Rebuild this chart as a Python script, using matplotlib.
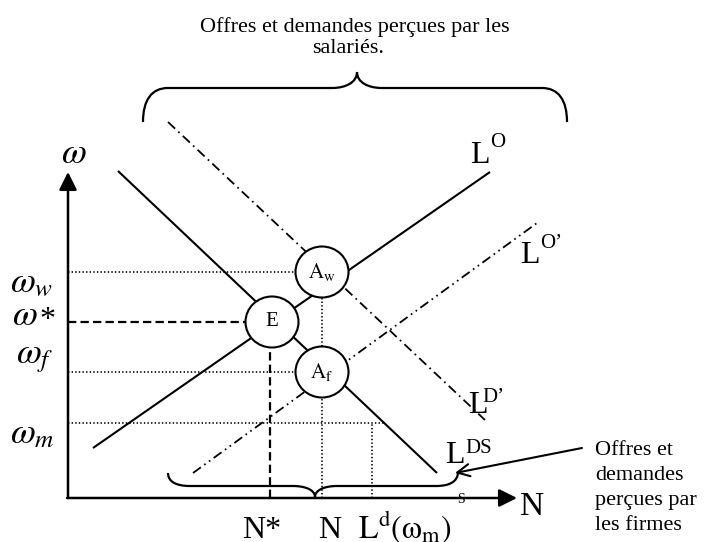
import matplotlib
matplotlib.use("Agg")
import matplotlib.pyplot as plt
from matplotlib.path import Path
from matplotlib.patches import PathPatch, Ellipse

plt.rcParams['mathtext.fontset'] = 'stix'
plt.rcParams['lines.scale_dashes'] = False
SERIF = 'Liberation Serif'

# ---------------- data (diagram units, origin at axes corner) ----------------
axis_x_end = 44.9
axis_y_end = 32.6

LD_x = [5.0, 36.9];   LD_y = [32.7, 2.5]     # demande L^D (solid)
LO_x = [2.5, 42.2];   LO_y = [5.0, 32.6]     # offre L^O (solid)
LDp_x = [10.0, 41.7]; LDp_y = [37.6, 7.8]    # L^D' (dash-dot)
LOp_x = [12.5, 46.9]; LOp_y = [2.5, 27.5]    # L^O' (dash-dot-dot)

# points (name, x, y)
pt_names = ['E', r'$\mathrm{A_w}$', r'$\mathrm{A_f}$']
pt_x = [20.4, 25.4, 25.4]
pt_y = [17.6, 22.6, 12.6]
radius = 2.6

# wage levels
w_labels = [r'$\omega_w$', r'$\omega$', r'$\omega_f$', r'$\omega_m$']
w_levels = [22.6, 17.6, 12.6, 7.5]
w_label_base = [20.6, 17.3, 13.5, 5.5]
w_label_right = [-1.5, -3.0, -1.5, -1.3]
w_line_end = [22.8, 17.8, 22.8, 31.7]
w_styles = ['dotted', 'dashed', 'dotted', 'dotted']

# employment levels
n_pos = [20.2, 25.4, 30.4]
n_top = [15.1, 20.0, 7.5]
n_styles = ['dashed', 'dotted', 'dotted']
n_labels = ['N*', 'N', r'$\mathrm{L^d(ω_m)}$']
n_label_x = [17.4, 25.0, 29.0]

top_text = ['Offres et demandes perçues par les', 'salariés.']
firm_text = ['Offres et', 'demandes', 'perçues par', 'les firmes']

# braces: x_left, x_tip, x_right, y_end_left, y_flat, y_tip, y_end_right, r
brace_top = [7.5, 28.9, 49.9, 37.6, 41.0, 42.6, 37.6, 2.5]
brace_bot = [10.0, 24.7, 39.0, 2.5, 1.2, 0.1, 2.6, 2.2]

arrow_tail = [51.4, 5.0]
arrow_tip = [38.7, 2.5]

# ---------------- figure ----------------
fig = plt.figure(figsize=(7.06, 5.42), dpi=100)
ax = fig.add_axes([0, 0, 1, 1])
ax.set_xlim(-6.8, 63.8)
ax.set_ylim(-4.4, 49.8)
ax.axis('off')

DOT = (0, (1.0, 1.6))
DASH = (0, (6, 3))
ls_map = {'dotted': DOT, 'dashed': DASH}
lw_map = {'dotted': 1.2, 'dashed': 1.6}

# axes with arrows
ax.annotate('', xy=(0, axis_y_end), xytext=(0, 0),
            arrowprops=dict(arrowstyle='-|>', lw=1.8, color='k', mutation_scale=27,
                            shrinkA=0, shrinkB=0))
ax.annotate('', xy=(axis_x_end, 0), xytext=(-0.09, 0),
            arrowprops=dict(arrowstyle='-|>', lw=1.8, color='k', mutation_scale=27,
                            shrinkA=0, shrinkB=0))

# curves
ax.plot(LD_x, LD_y, color='k', lw=1.5, solid_capstyle='butt')
ax.plot(LO_x, LO_y, color='k', lw=1.5, solid_capstyle='butt')
ax.plot(LDp_x, LDp_y, color='k', lw=1.3, linestyle=(0, (7, 3.2, 1.2, 3.2)))
ax.plot(LOp_x, LOp_y, color='k', lw=1.3, linestyle=(0, (7, 3, 1.2, 3, 1.2, 3)))

# guides
for lvl, end, st in zip(w_levels, w_line_end, w_styles):
    ax.plot([0, end], [lvl, lvl], color='k', lw=lw_map[st], linestyle=ls_map[st])
for xp, top, st in zip(n_pos, n_top, n_styles):
    ax.plot([xp, xp], [0, top], color='k', lw=lw_map[st], linestyle=ls_map[st])

# circles
for name, x, y in zip(pt_names, pt_x, pt_y):
    ax.add_patch(Ellipse((x, y), 2 * radius + 0.1, 2 * radius - 0.1, facecolor='white',
                         edgecolor='k', lw=1.5, zorder=5))
    ax.text(x, y, name, ha='center', va='center', fontsize=15, family=SERIF, zorder=6)

# y labels
ax.text(0.6, 33.5, r'$\omega$', ha='center', va='baseline', fontsize=26)
for lab, yb, xr in zip(w_labels, w_label_base, w_label_right):
    ax.text(xr, yb, lab, ha='right', va='baseline', fontsize=26)
ax.text(-2.85, 17.0, '*', ha='left', va='baseline', fontsize=23, family=SERIF)

# x labels
for lab, xl in zip(n_labels, n_label_x):
    ax.text(xl, -4.0, lab, ha='left', va='baseline', fontsize=23, family=SERIF)
ax.text(45.2, -1.7, 'N', ha='left', va='baseline', fontsize=24, family=SERIF)

# curve labels
def lab(xL, yL, sup, xs, ys, supsize=15):
    ax.text(xL, yL, 'L', ha='left', va='baseline', fontsize=23, family=SERIF)
    ax.text(xs, ys, sup, ha='left', va='baseline', fontsize=supsize, family=SERIF)

lab(40.2, 33.5, 'O', 42.2, 35.1)
lab(45.2, 23.5, 'O\u2019', 47.2, 25.0)
lab(40.0, 8.5, 'D\u2019', 41.4, 9.6)
lab(37.7, 3.5, 'DS', 39.7, 4.5)
ax.text(38.9, -0.5, 'S', ha='left', va='baseline', fontsize=10, family=SERIF)

# texts
ax.text(28.7, 46.6, top_text[0], ha='center', va='baseline', fontsize=16, family=SERIF)
ax.text(28.0, 44.5, top_text[1], ha='center', va='baseline', fontsize=16, family=SERIF)
for i, t in enumerate(firm_text):
    ax.text(52.7, 4.3 - 2.5 * i, t, ha='left', va='baseline', fontsize=16, family=SERIF)

ax.annotate('', xy=arrow_tip, xytext=arrow_tail,
            arrowprops=dict(arrowstyle='->', lw=1.5, color='k', mutation_scale=22,
                            shrinkA=0, shrinkB=0))

# braces
def brace(b):
    xl, xt, xr, yel, yf, yt, yer, r = b
    rm = r
    verts = [
        (xl, yel), (xl, yel + 0.65 * (yf - yel)), (xl + 0.35 * r, yf), (xl + r, yf),
        (xt - rm, yf),
        (xt - 0.45 * rm, yf), (xt, yf + 0.35 * (yt - yf)), (xt, yt),
        (xt, yf + 0.35 * (yt - yf)), (xt + 0.45 * rm, yf), (xt + rm, yf),
        (xr - r, yf),
        (xr - 0.35 * r, yf), (xr, yer + 0.65 * (yf - yer)), (xr, yer),
    ]
    codes = [Path.MOVETO, Path.CURVE4, Path.CURVE4, Path.CURVE4,
             Path.LINETO,
             Path.CURVE4, Path.CURVE4, Path.CURVE4,
             Path.CURVE4, Path.CURVE4, Path.CURVE4,
             Path.LINETO,
             Path.CURVE4, Path.CURVE4, Path.CURVE4]
    ax.add_patch(PathPatch(Path(verts, codes), facecolor='none', edgecolor='k', lw=1.6))

brace(brace_top)
brace(brace_bot)

fig.savefig('out.png', dpi=100)
